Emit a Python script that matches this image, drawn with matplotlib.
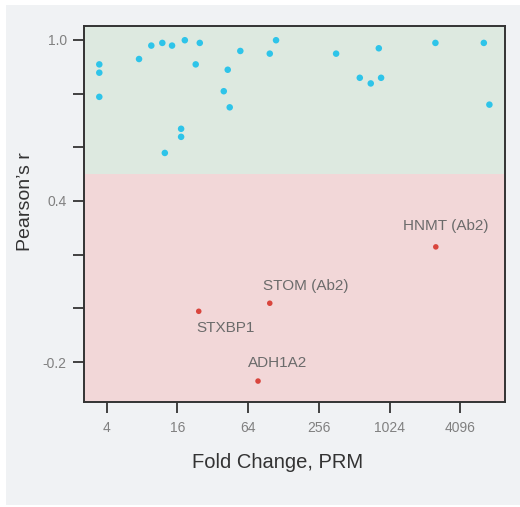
import matplotlib
matplotlib.use("Agg")
import matplotlib.pyplot as plt
from matplotlib.patches import Rectangle

plt.rcParams['font.family'] = ['Liberation Sans', 'DejaVu Sans']

# Correlated targets (Pearson's r vs PRM fold change)
good_fc = [3.46, 3.46, 3.46, 7.54, 9.59, 11.9, 14.4, 18.5, 24.8, 22.9,
           17.2, 17.2, 12.5, 54.9, 42.9, 39.7, 44.6, 97.8, 110.6,
           359, 829, 571, 708, 867, 2515, 6495, 7245]
good_r = [0.909, 0.878, 0.788, 0.929, 0.979, 0.989, 0.979, 0.999, 0.989, 0.909,
          0.669, 0.639, 0.579, 0.959, 0.889, 0.809, 0.749, 0.949, 0.999,
          0.949, 0.969, 0.859, 0.838, 0.859, 0.989, 0.989, 0.759]

# Poorly correlated targets, labelled
bad_names = ["HNMT (Ab2)", "STOM (Ab2)", "STXBP1", "ADH1A2"]
bad_fc = [2534, 97.8, 24.3, 77.7]
bad_r = [0.229, 0.019, -0.011, -0.271]
label_offsets = [(10, 21), (36, 17), (27, -17), (20, 18)]

x_ticks = [4, 16, 64, 256, 1024, 4096]
y_ticks = [-0.2, 0.0, 0.2, 0.4, 0.6, 0.8, 1.0]
y_ticklabels = ["-0.2", "", "", "0.4", "", "", "1.0"]
threshold = 0.5

W, H = 520, 507
fig = plt.figure(figsize=(W / 100, H / 100), dpi=100)
fig.patch.set_facecolor("white")
fig.patches.append(Rectangle((6 / W, 2 / H), 1 - 6 / W, (505 - 5) / H,
                             transform=fig.transFigure, facecolor="#f0f2f4",
                             edgecolor="none", zorder=-10))

ax = fig.add_axes([83.5 / W, 1 - 402 / H, (505 - 83.5) / W, (402 - 26) / H])
ax.set_xscale("log", base=2)
ax.set_xlim(2 ** 1.344, 2 ** 13.264)
ax.set_ylim(-0.349, 1.052)

ax.axhspan(threshold, 1.052, color="#dde9e0", zorder=0, lw=0)
ax.axhspan(-0.349, threshold, color="#f2d7d8", zorder=0, lw=0)

ax.scatter(good_fc, good_r, s=22, color="#2ec4e9", edgecolors="none", zorder=3)
ax.scatter(bad_fc, bad_r, s=16, color="#d9453d", edgecolors="none", zorder=3)

for name, fx, ry, (dx, dy) in zip(bad_names, bad_fc, bad_r, label_offsets):
    ax.annotate(name, (fx, ry), xytext=(dx, dy), textcoords="offset pixels",
                ha="center", va="center", fontsize=11, color="#6b6b6b")

ax.set_xticks(x_ticks)
ax.set_xticklabels([str(t) for t in x_ticks])
ax.minorticks_off()
ax.set_yticks(y_ticks)
ax.set_yticklabels(y_ticklabels)
ax.tick_params(axis="both", length=8, width=1.3, color="#333333",
               labelcolor="#808080", labelsize=10)
ax.tick_params(axis="x", pad=5.5)
ax.tick_params(axis="y", pad=4)

for sp in ax.spines.values():
    sp.set_color("#333333")
    sp.set_linewidth(1.4)

fig.text(278 / W, 1 - 463 / H, "Fold Change, PRM", ha="center", va="center",
         fontsize=14.5, color="#333333")
fig.text(26 / W, 1 - 202 / H, "Pearson\u2019s r", ha="center", va="center",
         rotation=90, fontsize=14, color="#333333")

fig.savefig("out.png", dpi=100, facecolor=fig.get_facecolor())
